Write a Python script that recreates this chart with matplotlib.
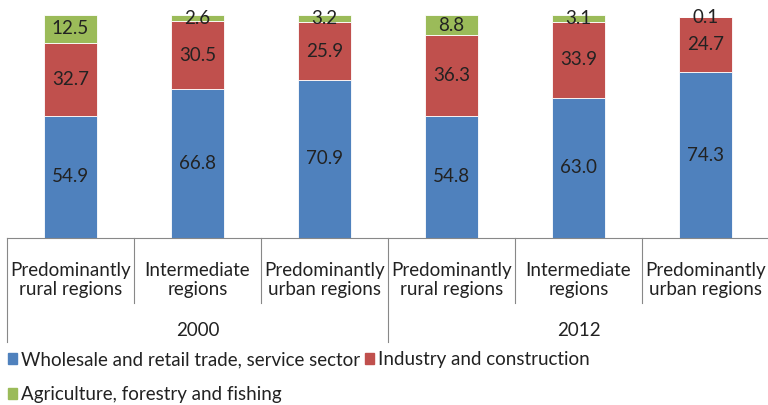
import numpy as np
import matplotlib
matplotlib.use("Agg")
import matplotlib.pyplot as plt
import matplotlib.transforms as mtransforms
from matplotlib.patches import Patch

plt.rcParams['font.family'] = ['Lato', 'DejaVu Sans']

# data
categories = ["Predominantly\nrural regions", "Intermediate\nregions", "Predominantly\nurban regions",
              "Predominantly\nrural regions", "Intermediate\nregions", "Predominantly\nurban regions"]
years = ["2000", "2012"]
services = [54.9, 66.8, 70.9, 54.8, 63.0, 74.3]
industry = [32.7, 30.5, 25.9, 36.3, 33.9, 24.7]
agriculture = [12.5, 2.6, 3.2, 8.8, 3.1, 0.1]
series_names = ["Wholesale and retail trade, service sector", "Industry and construction",
                "Agriculture, forestry and fishing"]
colors = ["#4F81BD", "#C0504D", "#9BBB59"]

W, H = 768, 405
FS = 13.5
fig = plt.figure(figsize=(W / 100, H / 100), dpi=100)
ax = fig.add_axes([7 / W, (H - 238) / H, 762 / W, 223 / H])

x = np.arange(len(categories))
bottom = np.zeros(len(x))
for vals, col in zip([services, industry, agriculture], colors):
    vals = np.array(vals)
    ax.bar(x, vals, width=0.41, bottom=bottom, color=col, edgecolor="white", linewidth=0.6)
    for xi, b, v in zip(x, bottom, vals):
        ax.text(xi, b + v / 2, f"{v:.1f}", ha="center", va="center", fontsize=FS, color="#222222")
    bottom += vals

ax.set_xlim(-0.5, len(x) - 0.5)
ax.set_ylim(0, 100)
for s in ["top", "right", "left"]:
    ax.spines[s].set_visible(False)
ax.spines["bottom"].set_color("#888888")
ax.set_xticks([])
ax.set_yticks([])

trans = mtransforms.blended_transform_factory(ax.transData, ax.transAxes)
px = 1 / 223
for i in range(len(x) + 1):
    xs = i - 0.5
    depth = 104 if i % 3 == 0 else 65
    ax.plot([xs, xs], [0, -depth * px], color="#888888", lw=0.8, transform=trans, clip_on=False)

for xi, lab in zip(x, categories):
    ax.text(xi, -42 * px, lab, ha="center", va="center", fontsize=FS, color="#222222",
            transform=trans, linespacing=1.15)
for g, yr in enumerate(years):
    ax.text(g * 3 + 1, -92 * px, yr, ha="center", va="center", fontsize=FS, color="#222222",
            transform=trans)

handles = [Patch(color=colors[0]), Patch(color=colors[2]), Patch(color=colors[1])]
labels = [series_names[0], series_names[2], series_names[1]]
fig.legend(handles, labels, ncol=2, loc="upper left", bbox_to_anchor=(-0.006, 1 - 339 / H),
           frameon=False, fontsize=FS, handlelength=0.5, handleheight=0.5, handletextpad=0.2,
           columnspacing=0.25, labelspacing=0.95, borderpad=0.15, labelcolor="#222222")

fig.savefig("out.png", dpi=100)
